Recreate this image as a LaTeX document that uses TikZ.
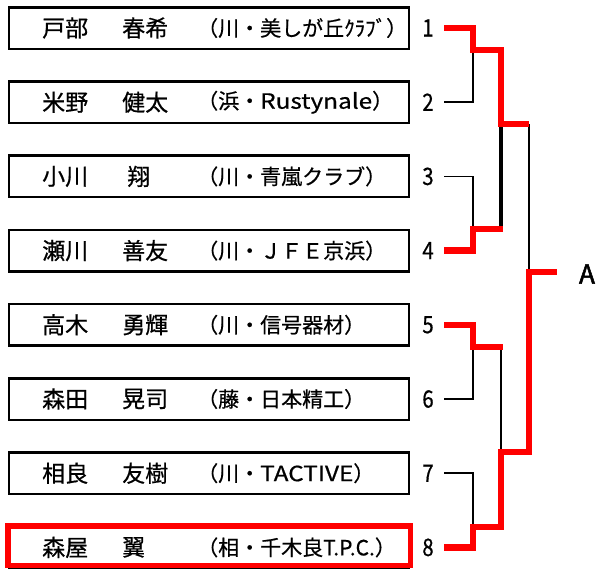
\documentclass[tikz,border=0pt]{standalone}
\usepackage{fontspec}
\setmainfont{Noto Sans CJK JP}
\newfontfamily\jp[FakeBold=0.6]{Noto Sans CJK JP}
\newfontfamily\latn[FakeBold=0.6,FakeStretch=1.16]{Noto Sans CJK JP}
\newfontfamily\numfont[FakeStretch=0.85,FakeBold=0.6]{Noto Sans CJK JP}
\newfontfamily\afont[FakeBold=2]{Noto Sans CJK JP}
\begin{document}
\begin{tikzpicture}[x=1pt,y=-1pt,
  box/.style={draw=black,line width=2.5pt,minimum width=400pt,minimum height=41.5pt,inner sep=0pt,fill=white},
  redbox/.style={draw=red,line width=5.5pt,minimum width=402.5pt,minimum height=39.5pt,inner sep=0pt},
  nm/.style={anchor=west,inner sep=0pt,font=\jp\fontsize{23}{23}\selectfont},
  club/.style={anchor=west,inner sep=0pt,font=\jp\fontsize{21}{21}\selectfont},
  num/.style={inner sep=0pt,font=\numfont\fontsize{24}{24}\selectfont},
  thin/.style={draw=black,line width=1.8pt,line join=miter},
  thick/.style={draw=black,line width=3.5pt},
  win/.style={draw=red,line width=6.5pt,line join=miter}]
\useasboundingbox (0,0) rectangle (597,570);
% boxes
\foreach \i/\y in {1/28,2/102.2,3/176.4,4/250.6,5/324.8,6/399,7/473.2,8/547.4}{
  \node[box] (b\i) at (209,\y) {};
  \node[num] (n\i) at (428,\y) {\i};
  \coordinate (e\i) at (444,\y);
}
\node[redbox] (r8) at (209,545.5) {};
% names
\node[nm] (s1) at (42,28) {戸部};    \node[nm] (g1) at (122,28) {春希};
\node[nm] (s2) at (42,102.2) {米野}; \node[nm] (g2) at (122,102.2) {健太};
\node[nm] (s3) at (42,176.4) {小川}; \node[nm] (g3) at (127,176.4) {翔};
\node[nm] (s4) at (42,250.6) {瀬川}; \node[nm] (g4) at (122,250.6) {善友};
\node[nm] (s5) at (42,324.8) {高木}; \node[nm] (g5) at (122,324.8) {勇輝};
\node[nm] (s6) at (42,399) {森田};   \node[nm] (g6) at (122,399) {晃司};
\node[nm] (s7) at (42,473.2) {相良}; \node[nm] (g7) at (122,473.2) {友樹};
\node[nm] (s8) at (42,547.4) {森屋}; \node[nm] (g8) at (122,547.4) {翼};
% clubs
\node[club] (c1) at (197,28) {（川・美しが丘ｸﾗﾌﾞ）};
\node[club] (c2) at (197,102.2) {（浜・{\latn Rustynale}）};
\node[club] (c3) at (197,176.4) {（川・青嵐クラブ）};
\node[club] (c4) at (197,250.6) {（川・ＪＦＥ京浜）};
\node[club] (c5) at (197,324.8) {（川・信号器材）};
\node[club] (c6) at (197,399) {（藤・日本精工）};
\node[club] (c7) at (197,473.2) {（川・{\latn TACTIVE}）};
\node[club] (c8) at (197,547.4) {（相・千木良T.P.C.）};
% junction coordinates
\coordinate (m12) at (473,50);
\coordinate (m34) at (473,229);
\coordinate (m56) at (473,347);
\coordinate (m78) at (473,527);
\coordinate (q1) at (501,124);
\coordinate (q2) at (501,452);
\coordinate (f) at (529,272);
\coordinate (fa) at (557,272);
\node[inner sep=0pt,font=\afont\fontsize{26}{26}\selectfont] (A) at (587,274) {A};
% losers (black)
\draw[thin] (e2) -| (m12);
\draw[thin] (e3) -| (m34);
\draw[thin] (e6) -| (m56);
\draw[thin] (e7) -| (m78);
\draw[thick] (q1) -- (501,229);
\draw[thin] (501,347) -- (q2);
\draw[thin] (529,124) -- (f);
% winners (red)
\draw[win] (e1) -| (m12) -- (501,50) -- (q1) -- (529,124);
\draw[win] (e4) -| (m34) -- (502.5,229);
\draw[win] (e5) -| (m56) -- (502.5,347);
\draw[win] (e8) -| (m78) -- (501,527) -- (q2) -- (529,452) -- (f) -- (fa);
\end{tikzpicture}
\end{document}
